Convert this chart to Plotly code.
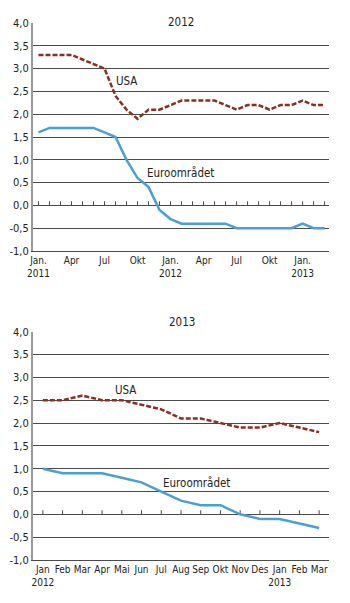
import plotly.graph_objects as go

# ---- data -------------------------------------------------------------
months_top = ["2011-%02d" % m for m in range(1, 13)] + ["2012-%02d" % m for m in range(1, 13)] + ["2013-01", "2013-02", "2013-03"]
usa_top = [3.3, 3.3, 3.3, 3.3, 3.2, 3.1, 3.0, 2.4, 2.1, 1.9, 2.1, 2.1, 2.2, 2.3, 2.3, 2.3, 2.3, 2.2,
           2.1, 2.2, 2.2, 2.1, 2.2, 2.2, 2.3, 2.2, 2.2]
euro_top = [1.6, 1.7, 1.7, 1.7, 1.7, 1.7, 1.6, 1.5, 1.0, 0.6, 0.4, -0.1, -0.3, -0.4, -0.4, -0.4, -0.4, -0.4,
            -0.5, -0.5, -0.5, -0.5, -0.5, -0.5, -0.4, -0.5, -0.5]
ticks_top = ["2011-01", "2011-04", "2011-07", "2011-10", "2012-01", "2012-04", "2012-07", "2012-10", "2013-01"]
ticktext_top = ["Jan.<br>2011", "Apr", "Jul", "Okt", "Jan.<br>2012", "Apr", "Jul", "Okt", "Jan.<br>2013"]

months_bot = ["2012-%02d" % m for m in range(1, 13)] + ["2013-01", "2013-02", "2013-03"]
usa_bot = [2.5, 2.5, 2.6, 2.5, 2.5, 2.4, 2.3, 2.1, 2.1, 2.0, 1.9, 1.9, 2.0, 1.9, 1.8]
euro_bot = [1.0, 0.9, 0.9, 0.9, 0.8, 0.7, 0.5, 0.3, 0.2, 0.2, 0.0, -0.1, -0.1, -0.2, -0.3]
ticktext_bot = ["Jan<br>2012", "Feb", "Mar", "Apr", "Mai", "Jun", "Jul", "Aug", "Sep", "Okt", "Nov", "Des",
                "Jan<br>2013", "Feb", "Mar"]

yvals = [4.0, 3.5, 3.0, 2.5, 2.0, 1.5, 1.0, 0.5, 0.0, -0.5, -1.0]
ytext = [("%.1f" % v).replace(".", ",") for v in yvals]

# ---- style ------------------------------------------------------------
FONT = "DejaVu Sans Condensed, Liberation Sans Narrow, sans-serif"
RED = "#8e2e1f"
BLUE = "#4a9fd5"
GRID = "#4a4a4a"
W, H = 350, 603

xdom = [33 / W, 329 / W]
top_dom = [1 - 251 / H, 1 - 23 / H]
bot_dom = [1 - 560 / H, 1 - 331.7 / H]
TICK_UP = 0.09  # zero-line tick height in axis units (~4 px)

fig = go.Figure()


def zero_ticks(months, xa, ya):
    # small upward tick marks on the zero line, one per month
    return go.Scatter(x=months, y=[0] * len(months), xaxis=xa, yaxis=ya, mode="markers",
                      marker=dict(size=1, color="rgba(0,0,0,0)"), hoverinfo="skip",
                      error_y=dict(type="constant", value=TICK_UP, valueminus=0, symmetric=False,
                                   width=0, thickness=1, color=GRID))


fig.add_trace(zero_ticks(months_top, "x", "y"))
fig.add_trace(zero_ticks(months_bot, "x2", "y2"))
fig.add_trace(go.Scatter(x=months_top, y=usa_top, mode="lines", line=dict(color=RED, width=2.5, dash="5px,2px"),
                         xaxis="x", yaxis="y", hoverinfo="skip"))
fig.add_trace(go.Scatter(x=months_top, y=euro_top, mode="lines", line=dict(color=BLUE, width=2.5),
                         xaxis="x", yaxis="y", hoverinfo="skip"))
fig.add_trace(go.Scatter(x=months_bot, y=usa_bot, mode="lines", line=dict(color=RED, width=2.5, dash="5px,2px"),
                         xaxis="x2", yaxis="y2", hoverinfo="skip"))
fig.add_trace(go.Scatter(x=months_bot, y=euro_bot, mode="lines", line=dict(color=BLUE, width=2.5),
                         xaxis="x2", yaxis="y2", hoverinfo="skip"))

yaxis_common = dict(range=[-1.0, 4.0], tickvals=yvals, ticktext=ytext, showgrid=True, gridcolor=GRID, gridwidth=1,
                    zeroline=False, showline=True, linecolor="#9a9a9a", linewidth=2, ticks="", automargin=False,
                    tickfont=dict(family=FONT, size=11, color="#222"), fixedrange=True)
xaxis_common = dict(type="category", showgrid=False, zeroline=False, showline=True, linecolor=GRID, linewidth=1,
                    ticks="", automargin=False, tickangle=0, tickfont=dict(family=FONT, size=10, color="#222"))

fig.update_layout(
    width=W, height=H, margin=dict(l=0, r=0, t=0, b=0), template="none",
    paper_bgcolor="white", plot_bgcolor="white", showlegend=False,
    xaxis=dict(xaxis_common, domain=xdom, anchor="y", range=[-0.5, 26.4], tickmode="array",
               tickvals=ticks_top, ticktext=ticktext_top, categoryorder="array", categoryarray=months_top),
    yaxis=dict(yaxis_common, domain=top_dom, anchor="x"),
    xaxis2=dict(xaxis_common, domain=xdom, anchor="y2", range=[-0.5, 14.5], tickmode="array",
                tickvals=months_bot, ticktext=ticktext_bot, categoryorder="array", categoryarray=months_bot),
    yaxis2=dict(yaxis_common, domain=bot_dom, anchor="x2"),
)

lab = dict(family=FONT, size=11.5, color="#222")
fig.add_annotation(text="2012", xref="paper", yref="paper", x=181 / W, y=1 - 13 / H, showarrow=False, font=lab)
fig.add_annotation(text="2013", xref="paper", yref="paper", x=182 / W, y=1 - 322 / H, showarrow=False, font=lab)
fig.add_annotation(text="USA", xref="x", yref="y", x=8.0, y=2.72, showarrow=False, font=lab)
fig.add_annotation(text="Euroområdet", xref="x", yref="y", x=12.9, y=0.70, showarrow=False, font=lab)
fig.add_annotation(text="USA", xref="x2", yref="y2", x=4.17, y=2.72, showarrow=False, font=lab)
fig.add_annotation(text="Euroområdet", xref="x2", yref="y2", x=7.8, y=0.69, showarrow=False, font=lab)

fig.write_html("out.html")
